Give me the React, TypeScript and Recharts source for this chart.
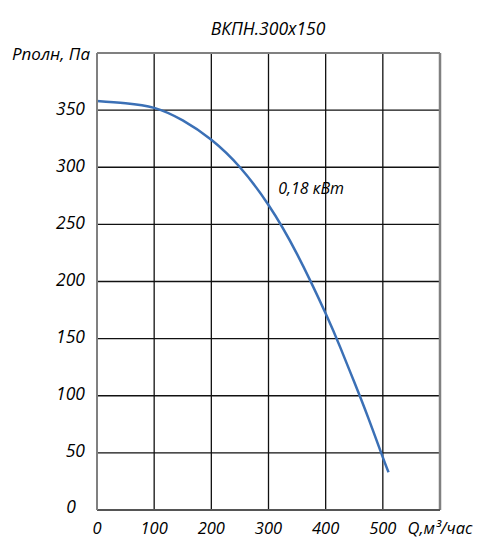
import React from "react";
import {
  LineChart,
  Line,
  XAxis,
  YAxis,
  CartesianGrid,
  ReferenceLine,
  ReferenceDot,
} from "recharts";

const flow = [0, 50, 100, 150, 200, 250, 300, 350, 400, 425, 450, 475, 500, 510];
const pressure = [358, 356, 352, 341, 324, 300, 267, 224, 172, 143, 112, 80, 46, 33];
const xTicks = [0, 100, 200, 300, 400, 500, 600];
const yTicks = [0, 50, 100, 150, 200, 250, 300, 350, 400];
const title = "ВКПН.300x150";
const xAxisName = "Q,м³/час";
const yAxisName = "Рполн, Па";
const curveLabel = "0,18 кВт";

const data = flow.map((q, i) => ({ q, p: pressure[i] }));

const FONT = "'Open Sans', 'Noto Sans', sans-serif";

const XTick = (props: any) => {
  const { x, payload } = props;
  const v = payload.value;
  const label = v === 600 ? xAxisName : String(v);
  return (
    <text
      x={x}
      y={534}
      textAnchor="middle"
      fontFamily={FONT}
      fontStyle="italic"
      fontSize={16.5}
      fill="#000"
    >
      {label}
    </text>
  );
};

const YTick = (props: any) => {
  const { y, payload } = props;
  const v = payload.value;
  if (v === 400) {
    return (
      <text
        x={90}
        y={y + 7}
        textAnchor="end"
        fontFamily={FONT}
        fontStyle="italic"
        fontSize={17}
        fill="#000"
      >
        {yAxisName}
      </text>
    );
  }
  if (v === 0) {
    return (
      <text
        x={76}
        y={y + 3}
        textAnchor="end"
        fontFamily={FONT}
        fontStyle="italic"
        fontSize={17.5}
        fill="#000"
      >
        0
      </text>
    );
  }
  return (
    <text
      x={85}
      y={y + 4.5}
      textAnchor="end"
      fontFamily={FONT}
      fontStyle="italic"
      fontSize={17.5}
      fill="#000"
    >
      {String(v)}
    </text>
  );
};

const LabelShape = (props: any) => {
  const { cx, cy } = props;
  return (
    <text
      x={cx}
      y={cy}
      textAnchor="start"
      fontFamily={FONT}
      fontStyle="italic"
      fontSize={16}
      fill="#000"
    >
      {curveLabel}
    </text>
  );
};

export default function App() {
  return (
    <div
      style={{
        position: "absolute",
        left: 0,
        top: 0,
        width: 478,
        height: 540,
        background: "#fff",
      }}
    >
      <svg
        width={478}
        height={540}
        style={{ position: "absolute", left: 0, top: 0, pointerEvents: "none" }}
      >
        <text
          x={268}
          y={35}
          textAnchor="middle"
          fontFamily={FONT}
          fontStyle="italic"
          fontSize={17.5}
          fill="#000"
        >
          {title}
        </text>
      </svg>
      <div style={{ position: "absolute", left: 0, top: 0 }}>
        <LineChart
          width={478}
          height={540}
          data={data}
          margin={{ top: 53, right: 38, bottom: 0, left: 0 }}
        >
          <CartesianGrid stroke="#111" strokeWidth={1.3} />
          <XAxis
            dataKey="q"
            type="number"
            domain={[0, 600]}
            ticks={xTicks}
            height={30}
            tickLine={false}
            axisLine={{ stroke: "#555", strokeWidth: 2 }}
            tick={<XTick />}
            interval={0}
          />
          <YAxis
            type="number"
            domain={[0, 400]}
            ticks={yTicks}
            width={97}
            tickLine={false}
            axisLine={{ stroke: "#808080", strokeWidth: 2 }}
            tick={<YTick />}
            interval={0}
          />
          <ReferenceLine y={400} stroke="#808080" strokeWidth={2} />
          <ReferenceLine x={600} stroke="#808080" strokeWidth={2.5} />
          <Line
            type="natural"
            dataKey="p"
            stroke="#3b70b6"
            strokeWidth={2.5}
            dot={false}
            isAnimationActive={false}
          />
          <ReferenceDot x={317} y={277} r={0} shape={<LabelShape />} />
        </LineChart>
      </div>
    </div>
  );
}
